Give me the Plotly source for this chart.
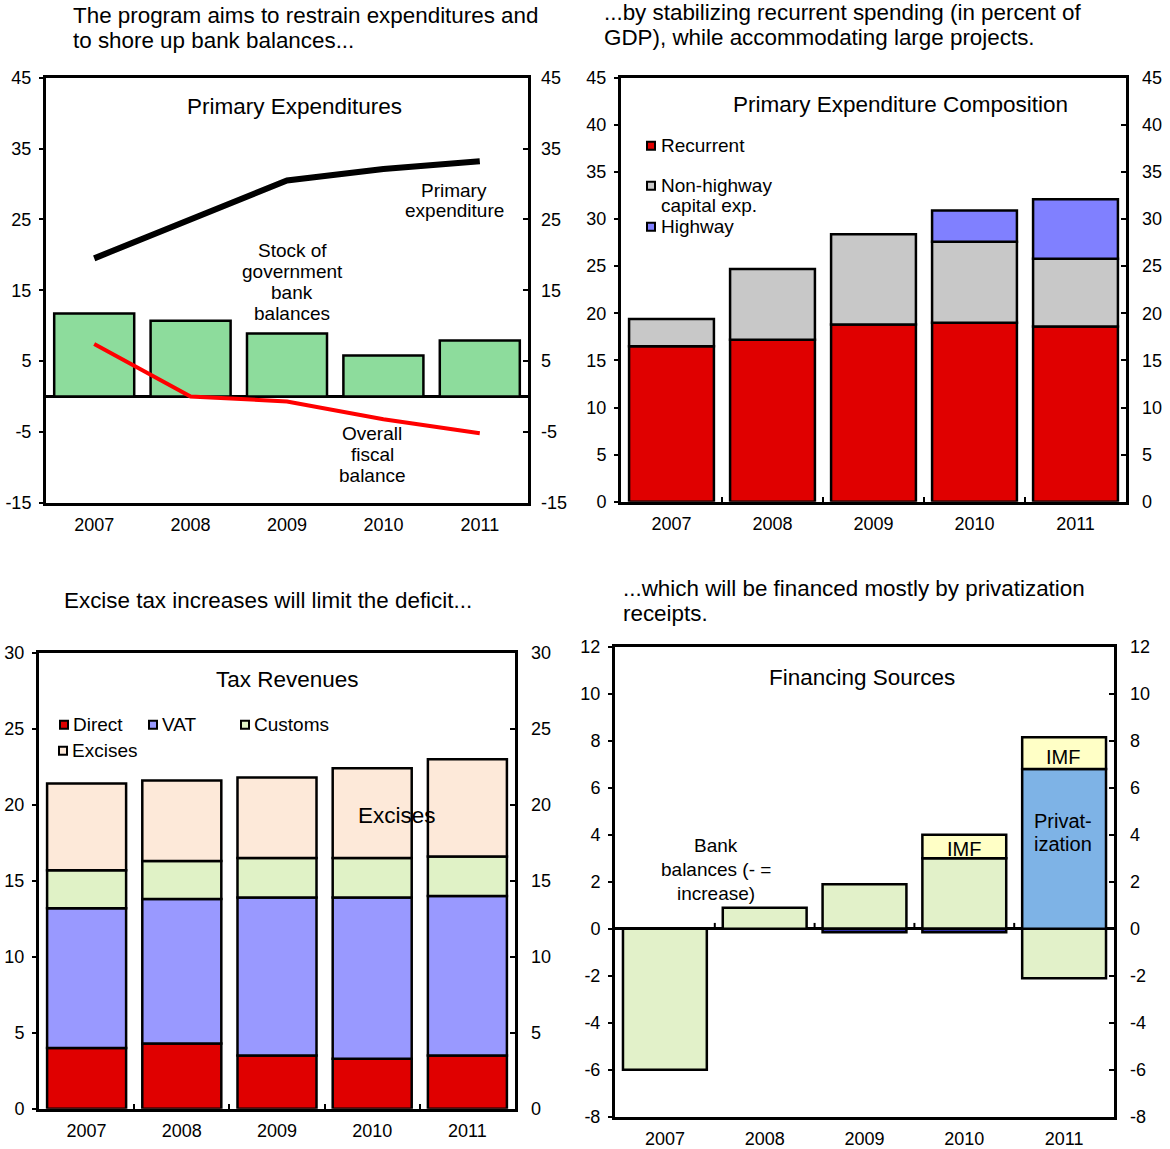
import plotly.graph_objects as go

W, H = 1170, 1149
FONT = "Liberation Sans, Arial, sans-serif"

years = ["2007", "2008", "2009", "2010", "2011"]

# Primary expenditures panel (percent of GDP)
bank_stock = [11.7, 10.7, 8.9, 5.8, 7.9]
primary_exp = [19.5, 25.1, 30.5, 32.1, 33.2]
fiscal_balance = [7.4, 0.0, -0.7, -3.2, -5.2]

# Primary expenditure composition
recurrent = [16.5, 17.2, 18.8, 19.0, 18.6]
non_highway = [2.9, 7.5, 9.6, 8.6, 7.2]
highway = [None, None, None, 3.3, 6.3]

# Tax revenues
direct = [4.0, 4.3, 3.5, 3.3, 3.5]
vat = [9.2, 9.5, 10.4, 10.6, 10.5]
customs = [2.5, 2.5, 2.6, 2.6, 2.6]
excises = [5.7, 5.3, 5.3, 5.9, 6.4]

# Financing sources
bank_fin = [-6.0, 0.9, 1.9, 3.0, -2.1]
other_fin = [None, None, -0.15, -0.15, None]
privatization = [None, None, None, None, 6.8]
imf = [None, None, None, 1.0, 1.35]

# value-axis tick labels for each panel
ticks_p1 = [-15, -5, 5, 15, 25, 35, 45]
ticks_p2 = [0, 5, 10, 15, 20, 25, 30, 35, 40, 45]
ticks_p3 = [0, 5, 10, 15, 20, 25, 30]
ticks_p4 = [-8, -6, -4, -2, 0, 2, 4, 6, 8, 10, 12]


def px(x):
    return x / W


def py(y):
    # vertical page position (pixels from top) -> paper fraction
    return 1 - ((y - 9.3) / 0.9825) / H


# panel frames in pixels: (left, right, top, bottom)
frames = {
    1: (46, 528, 77, 502),
    2: (621, 1126, 77, 501),
    3: (39, 515, 652, 1108),
    4: (615, 1114, 646, 1116),
}
ranges = {1: [-15, 45], 2: [0, 45], 3: [0, 30], 4: [-8, 12]}
tickvals = {1: ticks_p1, 2: ticks_p2, 3: ticks_p3, 4: ticks_p4}
right_standoff = {1: 12, 2: 15, 3: 15, 4: 15}

fig = go.Figure()

OUT = dict(color="black", width=2.5)


def bar(name, y, color, k, width=0.84):
    xa = "x" if k == 1 else f"x{k}"
    ya = "y" if k == 1 else f"y{k}"
    fig.add_trace(go.Bar(name=name, x=years, y=y, xaxis=xa, yaxis=ya, width=width,
                         marker=dict(color=color, line=OUT), showlegend=False))


# Panel 1
bar("Stock of government bank balances", bank_stock, "#8ddc9c", 1, 0.83)
fig.add_trace(go.Scatter(name="Primary expenditure", x=years, y=primary_exp, mode="lines",
                         line=dict(color="black", width=6), xaxis="x", yaxis="y", showlegend=False))
fig.add_trace(go.Scatter(name="Overall fiscal balance", x=years, y=fiscal_balance, mode="lines",
                         line=dict(color="#ff0000", width=4), xaxis="x", yaxis="y", showlegend=False))

# Panel 2
bar("Recurrent", recurrent, "#e00000", 2)
bar("Non-highway capital exp.", non_highway, "#c8c8c8", 2)
bar("Highway", highway, "#8080ff", 2)

# Panel 3
bar("Direct", direct, "#e00000", 3, 0.83)
bar("VAT", vat, "#9999ff", 3, 0.83)
bar("Customs", customs, "#e0f2c6", 3, 0.83)
bar("Excises", excises, "#fde9d9", 3, 0.83)

# Panel 4
bar("Bank balances", bank_fin, "#e2f1c9", 4)
bar("Other", other_fin, "#3333aa", 4)
bar("Privatization", privatization, "#7eb3e6", 4)
bar("IMF", imf, "#ffffc6", 4)

# empty traces so the right-hand value axes get drawn
for k in frames:
    xa = "x" if k == 1 else f"x{k}"
    fig.add_trace(go.Scatter(x=[years[0]], y=[None], xaxis=xa, yaxis=f"y{k + 4}",
                             mode="markers", hoverinfo="skip", showlegend=False))

layout = dict(
    width=W, height=H, autosize=False,
    margin=dict(l=0, r=0, t=0, b=0),
    paper_bgcolor="white", plot_bgcolor="white",
    barmode="relative",
    font=dict(family=FONT, size=18, color="black"),
    showlegend=False,
)

for k, (l, r, t, b) in frames.items():
    xs = "" if k == 1 else str(k)
    ys = "" if k == 1 else str(k)
    tv = tickvals[k]
    tt = [str(v) for v in tv]
    layout[f"xaxis{xs}"] = dict(
        domain=[px(l), px(r)], anchor=f"y{ys}", type="category",
        showline=True, mirror=True, linecolor="black", linewidth=3,
        showgrid=False, zeroline=False,
        ticks="" if k in (1, 4) else "inside", tickson="boundaries",
        ticklen=5, tickwidth=2, tickcolor="black",
        tickfont=dict(size=18), ticklabelstandoff=4,
    )
    layout[f"yaxis{ys}"] = dict(
        domain=[py(b), py(t)], anchor=f"x{xs}", range=ranges[k],
        tickmode="array", tickvals=tv, ticktext=tt,
        showline=True, mirror=True, linecolor="black", linewidth=3,
        showgrid=False, zeroline=k in (1, 4), zerolinecolor="black", zerolinewidth=3,
        ticks="outside", ticklen=4, tickwidth=2, tickcolor="black",
        tickfont=dict(size=18), ticklabelstandoff=4,
    )
    layout[f"yaxis{k + 4}"] = dict(
        overlaying=f"y{ys}", side="right", anchor=f"x{xs}", range=ranges[k],
        tickmode="array", tickvals=tv, ticktext=tt,
        showline=False, showgrid=False, zeroline=False,
        ticks="inside", ticklen=5, tickwidth=2, tickcolor="black",
        tickfont=dict(size=18), ticklabelstandoff=right_standoff[k],
    )

annotations = []


def text(lines, x, y0, size, step=0, anchor="center"):
    if isinstance(lines, str):
        lines = [lines]
    for i, line in enumerate(lines):
        annotations.append(dict(
            text=line, x=px(x), y=py(y0 + i * step), xref="paper", yref="paper",
            xanchor=anchor, yanchor="middle", showarrow=False,
            font=dict(family=FONT, size=size, color="black")))


# headings
text(["The program aims to restrain expenditures and", "to shore up bank balances..."], 71, 15, 22.4, 25, "left")
text(["...by stabilizing recurrent spending (in percent of", "GDP), while accommodating large projects."], 602, 12, 22.4, 25, "left")
text("Excise tax increases will limit the deficit...", 62, 600, 22.4, 0, "left")
text(["...which will be financed mostly by privatization", "receipts."], 621, 588, 22.4, 25, "left")

# panel 1 labels
text("Primary Expenditures", 294, 106, 22.5)
text(["Primary", "expenditure"], 454, 190, 19, 20)
text(["Stock of", "government", "bank", "balances"], 292, 250, 19, 21)
text(["Overall", "fiscal", "balance"], 372, 433, 19, 21)

# panel 2 labels and legend
text("Primary Expenditure Composition", 900, 104, 22.5)
legend2 = [("Recurrent", "#e00000", 145), ("Non-highway", "#c8c8c8", 185), ("Highway", "#8080ff", 226)]
for lab, col, yy in legend2:
    text(lab, 659, yy, 19, 0, "left")
text("capital exp.", 659, 205, 19, 0, "left")

# panel 3 labels and legend
text("Tax Revenues", 287, 679, 22.5)
legend3 = [("Direct", "#e00000", 60, 724), ("VAT", "#9999ff", 149, 724),
           ("Customs", "#e0f2c6", 241, 724), ("Excises", "#fde9d9", 59, 750)]
for lab, col, xx, yy in legend3:
    text(lab, xx + 11, yy, 19, 0, "left")
text("Excises", 397, 815, 22.5)

# panel 4 labels
text("Financing Sources", 862, 677, 22.5)
text(["Bank", "balances (- =", "increase)"], 716, 845, 19, 24)
text("IMF", 964, 848, 20)
text("IMF", 1063, 756, 20)
text(["Privat-", "ization"], 1063, 820, 20, 23)

shapes = []
for lab, col, yy in legend2:
    shapes.append(dict(type="rect", xref="paper", yref="paper",
                       x0=px(647), x1=px(655), y0=py(yy - 4), y1=py(yy + 4),
                       fillcolor=col, line=dict(color="black", width=2)))
for lab, col, xx, yy in legend3:
    shapes.append(dict(type="rect", xref="paper", yref="paper",
                       x0=px(xx), x1=px(xx + 8), y0=py(yy - 4), y1=py(yy + 4),
                       fillcolor=col, line=dict(color="black", width=2)))
# category boundary ticks on the zero line of the financing panel
for i in range(len(years) - 1):
    shapes.append(dict(type="line", xref="x4", yref="y4", x0=i + 0.5, x1=i + 0.5,
                       y0=0, y1=0.25, line=dict(color="black", width=2)))

layout["annotations"] = annotations
layout["shapes"] = shapes
fig.update_layout(**layout)

fig.write_html("out.html")
